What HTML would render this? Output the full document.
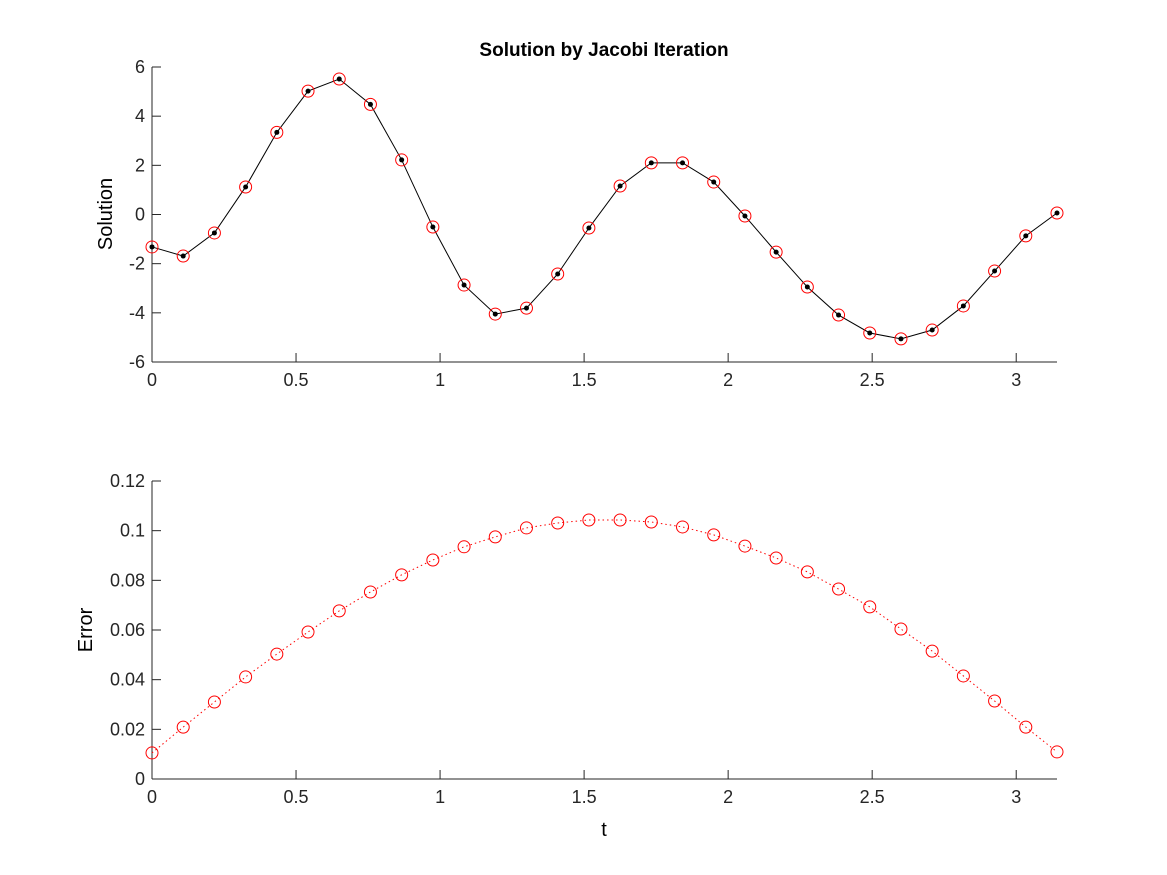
<!DOCTYPE html>
<html><head><meta charset="utf-8"><style>
body{margin:0;background:#fff}
svg{display:block;font-family:"Liberation Sans",sans-serif}
</style></head><body>
<svg id="fig" width="1167" height="875" xmlns="http://www.w3.org/2000/svg">
<rect width="1167" height="875" fill="#fff"/>
<text x="604" y="56" text-anchor="middle" font-size="19" font-weight="bold">Solution by Jacobi Iteration</text>
<g id="top"></g>
<g id="bot"></g>
<text transform="translate(112,214) rotate(-90)" text-anchor="middle" font-size="20">Solution</text>
<text transform="translate(92,630) rotate(-90)" text-anchor="middle" font-size="20">Error</text>
<text x="604" y="836" text-anchor="middle" font-size="20">t</text>
</svg>
<script>
const solution=[-1.32,-1.69,-0.75,1.12,3.34,5.02,5.51,4.48,2.22,-0.51,-2.87,-4.05,-3.81,-2.42,-0.55,1.16,2.10,2.10,1.32,-0.06,-1.53,-2.95,-4.09,-4.82,-5.06,-4.70,-3.72,-2.30,-0.87,0.06];
const errorVals=[0.0105,0.0209,0.0310,0.0411,0.0503,0.0592,0.0677,0.0753,0.0822,0.0882,0.0935,0.0975,0.1011,0.1031,0.1043,0.1043,0.1035,0.1015,0.0983,0.0938,0.0890,0.0834,0.0765,0.0693,0.0604,0.0515,0.0415,0.0314,0.0209,0.0109];
const xTicks=[0,0.5,1,1.5,2,2.5,3];
const xTickLabels=["0","0.5","1","1.5","2","2.5","3"];
const yTicksTop=[-6,-4,-2,0,2,4,6];
const yTicksBot=[0,0.02,0.04,0.06,0.08,0.1,0.12];
const yTickLabelsBot=["0","0.02","0.04","0.06","0.08","0.1","0.12"];
const NS="http://www.w3.org/2000/svg";
const n=solution.length;
const tVals=solution.map((_,i)=>i*Math.PI/(n-1));
const X0=152,X1=1057;
const xs=t=>X0+t/Math.PI*(X1-X0);
function mk(p,tag,a){const e=document.createElementNS(NS,tag);for(const k in a)e.setAttribute(k,a[k]);p.appendChild(e);return e;}
function axes(g,top,bot,ymin,ymax,yt,ylab){
  const ys=v=>bot-(v-ymin)/(ymax-ymin)*(bot-top);
  let l=mk(g,'line',{x1:X0,y1:bot,x2:X1,y2:bot,stroke:'#262626','stroke-width':1});
  
  l=mk(g,'line',{x1:X0,y1:top,x2:X0,y2:bot,stroke:'#262626','stroke-width':1});
  
  xTicks.forEach((t,i)=>{const x=xs(t);
    mk(g,'line',{x1:x,y1:bot,x2:x,y2:bot-9,stroke:'#262626'});
    const tx=mk(g,'text',{x:x,y:bot+24,'text-anchor':'middle','font-size':18,fill:'#262626'});
    tx.textContent=xTickLabels[i];
    });
  yt.forEach((v,i)=>{const y=ys(v);
    mk(g,'line',{x1:X0,y1:y,x2:X0+9,y2:y,stroke:'#262626'});
    const tx=mk(g,'text',{x:X0-7,y:y+6,'text-anchor':'end','font-size':18,fill:'#262626'});
    tx.textContent=ylab[i];
    });
  return ys;
}
const gt=document.getElementById('top'),gb=document.getElementById('bot');
const ysT=axes(gt,67,362,-6,6,yTicksTop,yTicksTop.map(String));
let pl=mk(gt,'polyline',{points:solution.map((v,i)=>xs(tVals[i])+','+ysT(v)).join(' '),fill:'none',stroke:'#000','stroke-width':1});

solution.forEach((v,i)=>{
  const c=mk(gt,'circle',{cx:xs(tVals[i]),cy:ysT(v),r:6,fill:'none',stroke:'#f00','stroke-width':1});
  
  const d=mk(gt,'circle',{cx:xs(tVals[i]),cy:ysT(v),r:2.5,fill:'#000'});
  
});
const ysB=axes(gb,481,779,0,0.12,yTicksBot,yTickLabelsBot);
pl=mk(gb,'polyline',{points:errorVals.map((v,i)=>xs(tVals[i])+','+ysB(v)).join(' '),fill:'none',stroke:'#f00','stroke-width':1,'stroke-dasharray':'1.5 3'});

errorVals.forEach((v,i)=>{
  const c=mk(gb,'circle',{cx:xs(tVals[i]),cy:ysB(v),r:6,fill:'none',stroke:'#f00','stroke-width':1});
  
});
</script>
</body></html>
